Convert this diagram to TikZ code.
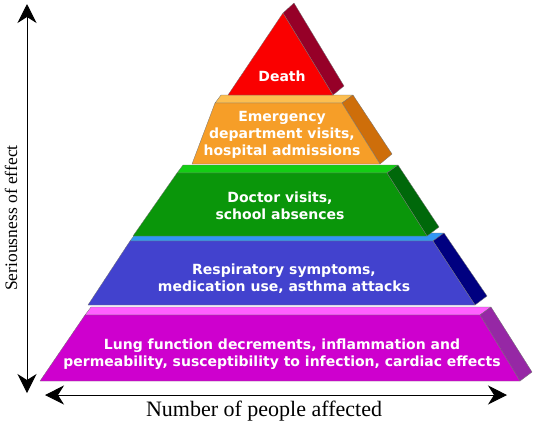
\documentclass[tikz,border=0pt]{standalone}
\usepackage{fontspec}
\setmainfont{Liberation Serif}
\newfontfamily\layerfont{DejaVu Sans}
\usetikzlibrary{arrows.meta,calc}
\definecolor{deathface}{RGB}{250,0,0}
\definecolor{deathside}{RGB}{150,0,40}
\definecolor{emergface}{RGB}{246,158,40}
\definecolor{emergtop}{RGB}{252,190,80}
\definecolor{emergside}{RGB}{206,110,10}
\definecolor{doctorface}{RGB}{10,150,10}
\definecolor{doctortop}{RGB}{20,205,20}
\definecolor{doctorside}{RGB}{0,104,10}
\definecolor{respface}{RGB}{66,66,206}
\definecolor{resptop}{RGB}{50,150,245}
\definecolor{respside}{RGB}{0,0,128}
\definecolor{lungface}{RGB}{206,0,206}
\definecolor{lungtop}{RGB}{255,96,255}
\definecolor{lungside}{RGB}{150,40,165}

\begin{document}
\begin{tikzpicture}[x=1pt, y=-1pt,
  edge/.style={draw=black!55, line width=0.3pt, line join=round},
  layertext/.style={text=white, align=center, inner sep=0pt,
    font=\layerfont\bfseries\fontsize{14}{17}\selectfont},
  axis/.style={line width=1pt, {Stealth[length=19pt,width=19pt,inset=6pt]}-{Stealth[length=19pt,width=19pt,inset=6pt]}},
  axistext/.style={inner sep=0pt}]
\useasboundingbox (0,0) rectangle (540,424);

% Lung function layer (bottom)
\fill[lungtop, edge] (85,315) -- (91,307) -- (491,307) -- (480,315) -- cycle;
\fill[lungside, edge] (480,315) -- (491,307) -- (532,372) -- (520,381) -- cycle;
\fill[lungface, edge] (40,381) -- (520,381) -- (480,315) -- (85,315) -- cycle;

% Respiratory layer
\fill[resptop, edge] (130,241) -- (136,233) -- (444,233) -- (433,241) -- cycle;
\fill[respside, edge] (433,241) -- (444,233) -- (487,296) -- (475,305) -- cycle;
\fill[respface, edge] (88,305) -- (475,305) -- (433,241) -- (130,241) -- cycle;

% Doctor visits layer
\fill[doctortop, edge] (177,173) -- (183,165) -- (398,165) -- (387,173) -- cycle;
\fill[doctorside, edge] (387,173) -- (398,165) -- (439,227) -- (427,236) -- cycle;
\fill[doctorface, edge] (133,236) -- (427,236) -- (387,173) -- (177,173) -- cycle;

% Emergency layer
\fill[emergtop, edge] (215,103) -- (221,95) -- (353,95) -- (342,103) -- cycle;
\fill[emergside, edge] (342,103) -- (353,95) -- (392,154) -- (380,164) -- cycle;
\fill[emergface, edge] (192,164) -- (380,164) -- (342,103) -- (215,103) -- cycle;

% Death (top)
\fill[deathside, edge] (283,13) -- (294,3) -- (344,86) -- (333,95) -- cycle;
\fill[deathface, edge] (228,95) -- (333,95) -- (283,13) -- cycle;

% Layer labels
\node[layertext] (death) at (282,76) {Death};
\node[layertext] (emerg) at (282,135) {Emergency\\department visits,\\hospital admissions};
\node[layertext] (doctor) at (280,206) {Doctor visits,\\school absences};
\node[layertext] (resp) at (284,279) {Respiratory symptoms,\\medication use, asthma attacks};
\node[layertext] (lung) at (282,354) {Lung function decrements, inflammation and\\permeability, susceptibility to infection, cardiac effects};

% Axes
\coordinate (ytop) at (27,4);
\coordinate (ybot) at (27,393);
\coordinate (xleft) at (45,395);
\coordinate (xright) at (507,395);
\draw[axis] (ybot) -- (ytop);
\draw[axis] (xleft) -- (xright);
\node[axistext, rotate=90, font=\fontsize{17.5}{20}\selectfont] (serious) at (11,218) {Seriousness of effect};
\node[axistext, font=\fontsize{22}{24}\selectfont] (number) at (264,411) {Number of people affected};

\end{tikzpicture}
\end{document}
